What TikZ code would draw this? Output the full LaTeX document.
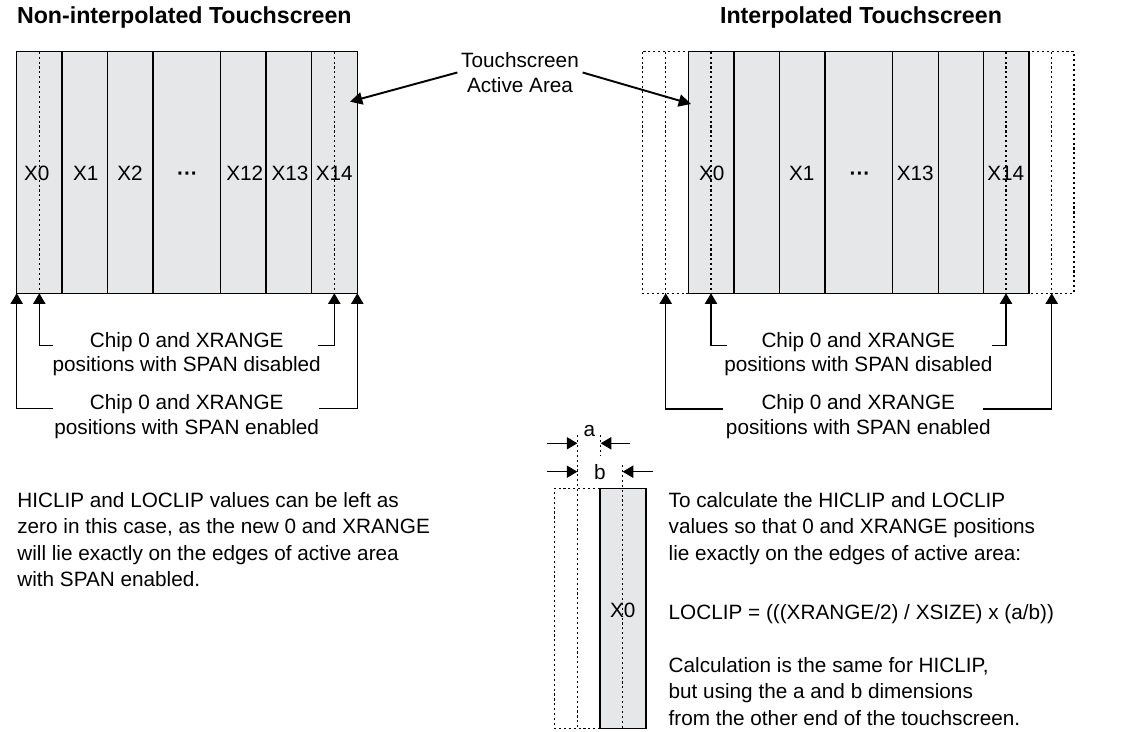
\documentclass[tikz,border=0pt]{standalone}
\usepackage{fontspec}
\setmainfont{Liberation Sans}
\usetikzlibrary{arrows.meta,positioning}
\definecolor{padgray}{RGB}{230,231,232}
\tikzset{
  pad/.style={fill=padgray,draw=black,line width=0.6pt},
  rim/.style={draw=black,line width=0.9pt},
  dotline/.style={line width=0.6pt,dash pattern=on 1.2pt off 1.6pt},
  tip/.style={line width=0.6pt,-{Triangle[width=7pt,length=6pt]}},
  lead/.style={line width=1.1pt,-{Triangle[width=7pt,length=7pt]}},
  lbl/.style={font=\fontsize{11.8}{14}\selectfont,inner sep=0pt},
  para/.style={font=\fontsize{11.8}{15}\selectfont,align=left,anchor=north west,inner sep=0pt},
  ttl/.style={font=\fontsize{13.2}{15}\selectfont\bfseries,inner sep=0pt},
}
\newcommand{\middots}{\vphantom{X}\textbf{\char"00B7\char"00B7\char"00B7}}
\begin{document}
\begin{tikzpicture}[x=0.02cm,y=-0.02cm]
  \useasboundingbox (0,0) rectangle (1128,732);
  % 标题
  \node[ttl,anchor=west] (ttlA) at (16.7,18) {Non-interpolated Touchscreen};
  \node[ttl] (ttlB) at (861,18) {Interpolated Touchscreen};
  % 左：非插值触摸屏
  \fill[padgray] (16.7,51.7) rectangle (357.3,293.3);
  \foreach \x in {62,107.3,153,220.7,266,311.7}
    \draw[line width=0.6pt] (\x,51.7) -- (\x,293.3);
  \draw[rim] (16.7,51.7) rectangle (357.3,293.3);
  \draw[dotline] (39.3,51.7) -- (39.3,293.3) (334.3,51.7) -- (334.3,293.3);
  \foreach \x/\t in {36.7/X0,85.7/X1,130/X2,187.5/\middots,244.7/X12,290/X13,334.3/X14}
    \node[lbl] at (\x,173.3) {\t};
  % 右：插值触摸屏（虚线为扩展区）
  \draw[dotline] (642.7,51.7) rectangle (1074,293.3);
  \draw[dotline] (665.7,51.7) -- (665.7,293.3) (1051.7,51.7) -- (1051.7,293.3);
  \fill[padgray] (688.3,51.7) rectangle (1029,293.3);
  \foreach \x in {734,779.3,825,892.7,938.3,983.3}
    \draw[line width=0.6pt] (\x,51.7) -- (\x,293.3);
  \draw[rim] (688.3,51.7) rectangle (1029,293.3);
  \draw[dotline] (711,51.7) -- (711,293.3) (1006,51.7) -- (1006,293.3);
  \foreach \x/\t in {711.7/X0,801.7/X1,860/\middots,915.3/X13,1005.7/X14}
    \node[lbl] at (\x,173.3) {\t};
  % 有效区域标注
  \node[lbl,align=center,inner sep=2pt] (tsa) at (520,72.5) {Touchscreen\\Active Area};
  \coordinate (tsaL) at (350,101.7);
  \coordinate (tsaR) at (691,104);
  \draw[lead] (tsa.west) -- (tsaL);
  \draw[lead] (tsa.east) -- (tsaR);
  % 左下：位置箭头
  \coordinate (a0) at (16.7,293.3);
  \coordinate (a1) at (39.3,293.3);
  \coordinate (a2) at (334.3,293.3);
  \coordinate (a3) at (357.3,293.3);
  \node[lbl,align=center] (disA) at (186.7,354) {Chip 0 and XRANGE\\positions with SPAN disabled};
  \node[lbl,align=center] (enaA) at (186.7,416.5) {Chip 0 and XRANGE\\positions with SPAN enabled};
  \coordinate (d1) at (53,345.7);
  \coordinate (d2) at (318,345.7);
  \coordinate (e1) at (53,408.3);
  \coordinate (e2) at (319,408.3);
  \draw[tip] (d1) -| (a1);
  \draw[tip] (d2) -| (a2);
  \draw[tip] (e1) -| (a0);
  \draw[tip] (e2) -| (a3);
  % 右下：位置箭头
  \coordinate (b0) at (665.7,293.3);
  \coordinate (b1) at (711,293.3);
  \coordinate (b2) at (1006,293.3);
  \coordinate (b3) at (1051.7,293.3);
  \node[lbl,align=center] (disB) at (858.3,354) {Chip 0 and XRANGE\\positions with SPAN disabled};
  \node[lbl,align=center] (enaB) at (858.3,416.5) {Chip 0 and XRANGE\\positions with SPAN enabled};
  \coordinate (f1) at (726.7,345.7);
  \coordinate (f2) at (991.7,345.7);
  \coordinate (g1) at (723,409);
  \coordinate (g2) at (983,409);
  \draw[tip] (f1) -| (b1);
  \draw[tip] (f2) -| (b2);
  \draw[tip] (g1) -| (b0);
  \draw[tip] (g2) -| (b3);
  % 中下：X0 放大与尺寸 a、b
  \draw[dotline] (600,488.3) -- (554.3,488.3) -- (554.3,728.3) -- (600,728.3);
  \draw[dotline] (577.3,435) -- (577.3,728.3) (600.7,435) -- (600.7,456);
  \fill[padgray] (600,488.3) rectangle (646,728.3);
  \draw[rim] (600,488.3) rectangle (646,728.3);
  \draw[dotline] (622.7,465) -- (622.7,728.3);
  \node[lbl] (xz) at (622.7,610) {X0};
  \coordinate (aL) at (577.3,443.3);
  \coordinate (aR) at (600.7,443.3);
  \coordinate (bL) at (577.3,471.7);
  \coordinate (bR) at (622.7,471.7);
  \draw[tip] (546.7,443.3) -- (aL);
  \draw[tip] (630,443.3) -- (aR);
  \draw[tip] (546.7,471.7) -- (bL);
  \draw[tip] (653.3,471.7) -- (bR);
  \node[lbl] (dimA) at (589.3,431) {a};
  \node[lbl] (dimB) at (600,471.7) {b};
  % 说明文字
  \node[para] (hintL) at (17,492) {HICLIP and LOCLIP values can be left as\\zero in this case, as the new 0 and XRANGE\\will lie exactly on the edges of active area\\with SPAN enabled.};
  \node[para] (hintR) at (668.3,492) {To calculate the HICLIP and LOCLIP\\values so that 0 and XRANGE positions\\lie exactly on the edges of active area:};
  \node[para] (formula) at (668.3,604) {LOCLIP = (((XRANGE/2) / XSIZE) x (a/b))};
  \node[para] (note) at (668.3,657) {Calculation is the same for HICLIP,\\but using the a and b dimensions\\from the other end of the touchscreen.};
\end{tikzpicture}
\end{document}
